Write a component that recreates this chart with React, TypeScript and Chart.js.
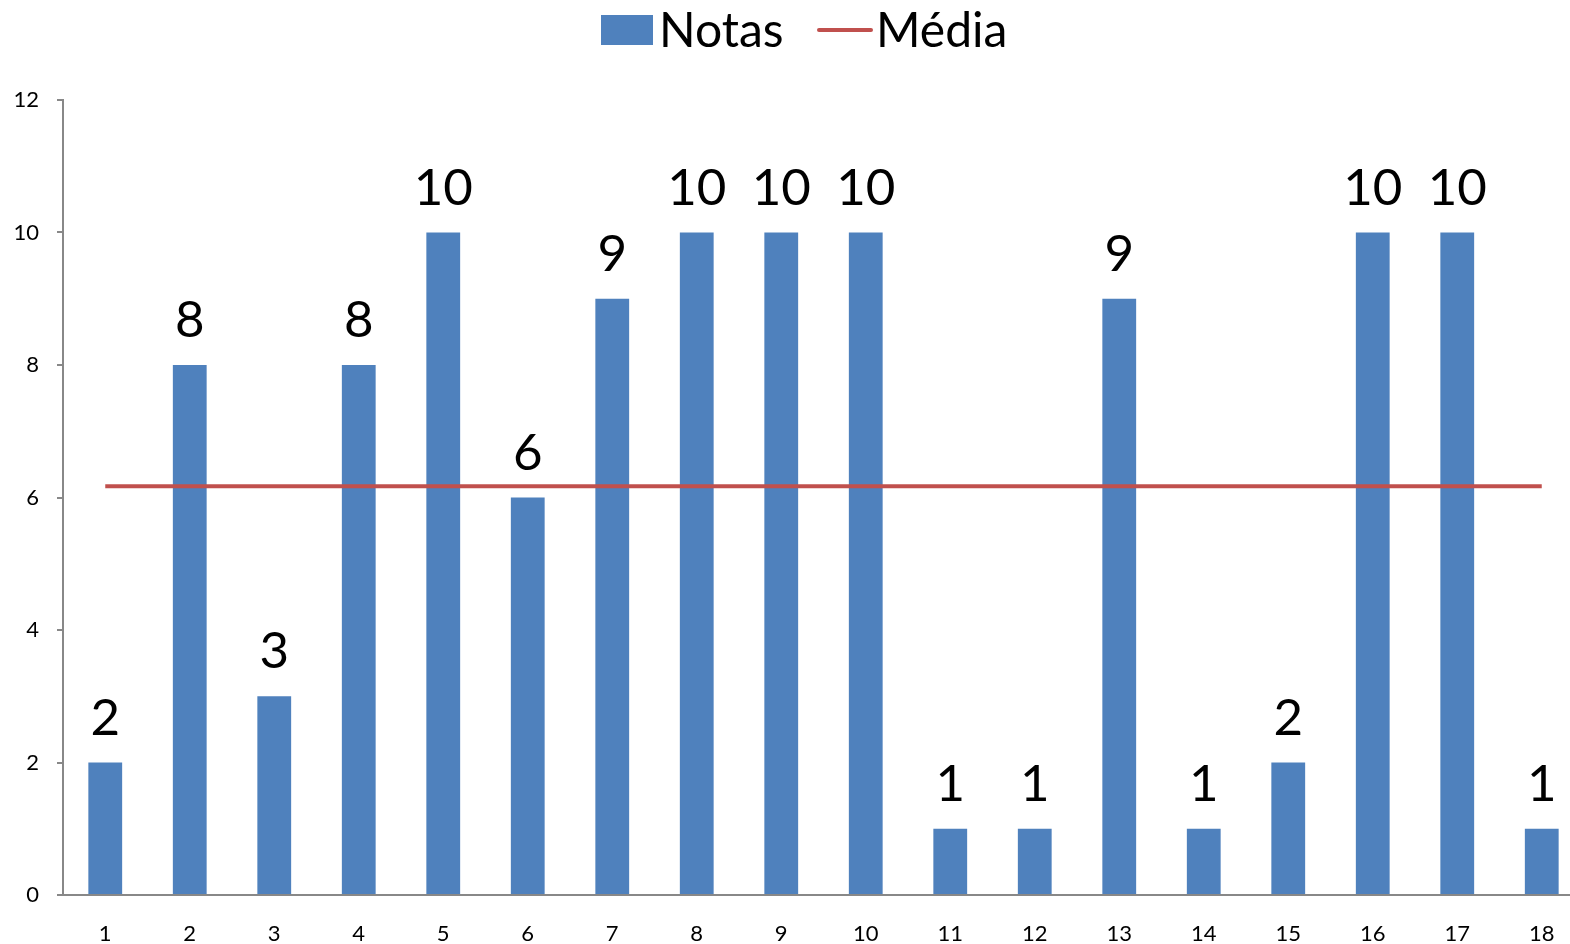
import React, { useEffect, useRef } from "react";
import { Chart, registerables } from "chart.js";

Chart.register(...registerables);

const categories = ["1", "2", "3", "4", "5", "6", "7", "8", "9", "10", "11", "12", "13", "14", "15", "16", "17", "18"];
const notas = [2, 8, 3, 8, 10, 6, 9, 10, 10, 10, 1, 1, 9, 1, 2, 10, 10, 1];
const media = [6.17, 6.17, 6.17, 6.17, 6.17, 6.17, 6.17, 6.17, 6.17, 6.17, 6.17, 6.17, 6.17, 6.17, 6.17, 6.17, 6.17, 6.17];
const yMin = 0;
const yMax = 12;
const yStep = 2;
const seriesNames = ["Notas", "Média"];

const FONT = "Lato, 'Open Sans', sans-serif";
const BAR_COLOR = "#4F81BD";
const LINE_COLOR = "#C0504D";

const labelPlugin = {
  id: "barLabels",
  afterDatasetsDraw(chart: any) {
    const ctx = chart.ctx;
    const meta = chart.getDatasetMeta(0);
    ctx.save();
    ctx.font = `51px ${FONT}`;
    ctx.fillStyle = "#000";
    ctx.textAlign = "center";
    ctx.textBaseline = "alphabetic";
    meta.data.forEach((el: any, i: number) => {
      ctx.fillText(String(notas[i]), el.x, el.y - 28);
    });
    ctx.restore();
  },
};

const legendPlugin = {
  id: "customLegend",
  afterDraw(chart: any) {
    const ctx = chart.ctx;
    ctx.save();
    ctx.font = `48px ${FONT}`;
    ctx.fillStyle = BAR_COLOR;
    ctx.fillRect(601, 15, 52, 30);
    ctx.fillStyle = "#000";
    ctx.textAlign = "left";
    ctx.textBaseline = "alphabetic";
    ctx.fillText(seriesNames[0], 659, 47);
    ctx.strokeStyle = LINE_COLOR;
    ctx.lineWidth = 4;
    ctx.lineCap = "round";
    ctx.beginPath();
    ctx.moveTo(819, 30);
    ctx.lineTo(871, 30);
    ctx.stroke();
    ctx.fillText(seriesNames[1], 876, 47);
    ctx.restore();
  },
};

export default function App() {
  const ref = useRef<HTMLCanvasElement | null>(null);
  useEffect(() => {
    if (!ref.current) return;
    const chart = new Chart(ref.current, {
      type: "bar",
      data: {
        labels: categories,
        datasets: [
          {
            type: "bar",
            label: seriesNames[0],
            data: notas,
            backgroundColor: BAR_COLOR,
            barPercentage: 0.4,
            categoryPercentage: 1,
            order: 2,
          },
          {
            type: "line",
            label: seriesNames[1],
            data: media,
            borderColor: LINE_COLOR,
            borderWidth: 4,
            pointRadius: 0,
            fill: false,
            order: 1,
          },
        ] as any,
      },
      options: {
        animation: false,
        responsive: true,
        maintainAspectRatio: false,
        layout: { padding: { top: 100, right: 0, left: 0, bottom: 0 } },
        plugins: {
          legend: { display: false },
          tooltip: { enabled: false },
        },
        scales: {
          x: {
            grid: { display: false, drawTicks: false },
            border: { display: true, color: "#888", width: 2 },
            ticks: { font: { family: FONT, size: 22 }, color: "#000", padding: 26, maxRotation: 0, autoSkip: false },
            afterFit: (s: any) => {
              s.height = 49;
            },
          },
          y: {
            min: yMin,
            max: yMax,
            ticks: { stepSize: yStep, font: { family: FONT, size: 22 }, color: "#000", padding: 18 },
            grid: { drawOnChartArea: false, drawTicks: true, tickLength: 6, color: "#888", lineWidth: 2 },
            border: { display: true, color: "#888", width: 2 },
            afterFit: (s: any) => {
              s.width = 63;
            },
          },
        },
      } as any,
      plugins: [labelPlugin, legendPlugin],
    });
    return () => chart.destroy();
  }, []);
  return (
    <div style={{ position: "absolute", left: 0, top: 0, width: 1570, height: 944, overflow: "hidden", background: "#fff" }}>
      <div style={{ position: "absolute", left: 0, top: 0, width: 1584, height: 944 }}>
        <canvas ref={ref} />
      </div>
    </div>
  );
}
